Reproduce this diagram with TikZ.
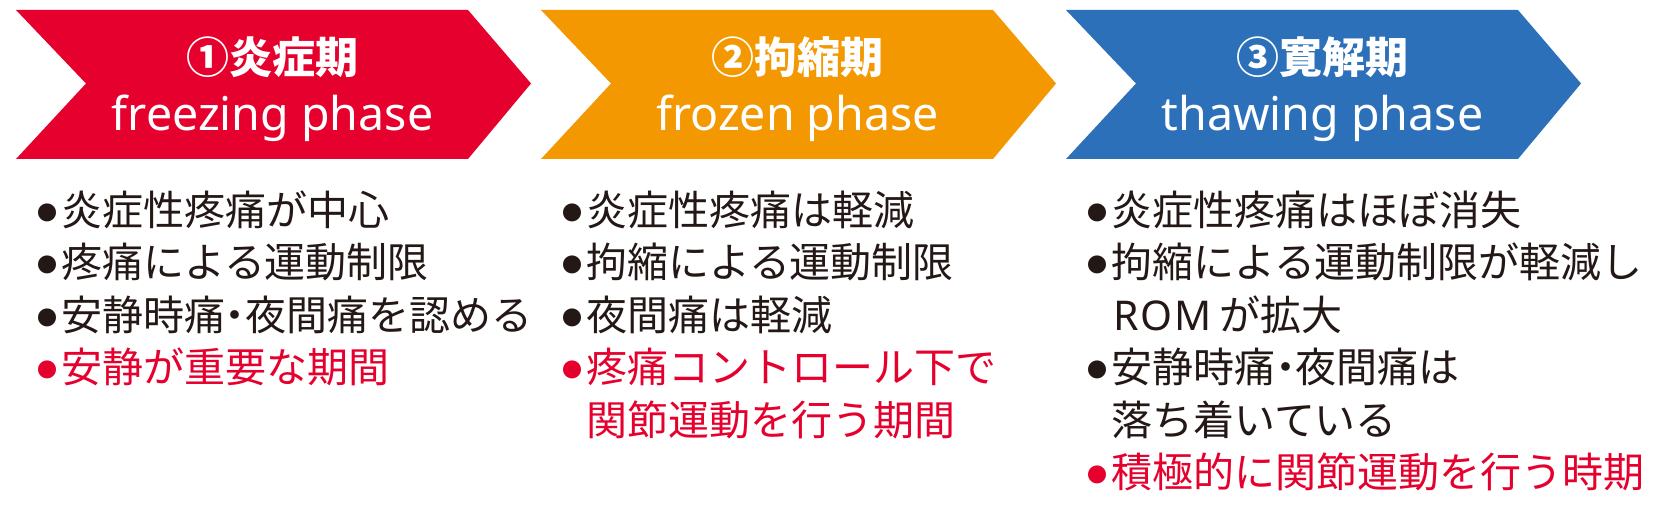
\documentclass[tikz,border=0pt]{standalone}
\usepackage{fontspec}
\setmainfont{Noto Sans}
\newfontfamily\jp{Noto Sans CJK JP}
\newfontfamily\jpp[RawFeature=+palt]{Noto Sans CJK JP}
\newfontfamily\lat{Noto Sans}
\definecolor{cred}{HTML}{E5002D}
\definecolor{corange}{HTML}{F39800}
\definecolor{cblue}{HTML}{2B70B8}
\definecolor{ink}{HTML}{231815}
\newcommand\nd{{\jpp ・}}
\begin{document}
\begin{tikzpicture}[x=1pt,y=-1pt,
  ttl/.style={text=white,font=\fontsize{43}{43}\selectfont\jp\bfseries,inner sep=0pt,anchor=base},
  sub/.style={text=white,font=\fontsize{46.5}{46.5}\selectfont,inner sep=0pt,anchor=base},
  itm/.style={text=ink,font=\fontsize{41}{41}\selectfont\jp,inner sep=0pt,anchor=base west},
  bul/.style={text=ink,font=\fontsize{20}{20}\selectfont\jp,inner sep=0pt,anchor=center},
  hot/.style={text=cred}]
\useasboundingbox (0,0) rectangle (1680,505);
% chevrons
\fill[cred] (16,10) -- (468,10) -- (531,83.5) -- (468,159) -- (16,159) -- (86,83.5) -- cycle;
\fill[corange] (541,10) -- (993,10) -- (1056,83.5) -- (993,159) -- (541,159) -- (611,83.5) -- cycle;
\fill[cblue] (1066,10) -- (1518,10) -- (1581,83.5) -- (1518,159) -- (1066,159) -- (1136,83.5) -- cycle;
% titles
\node[ttl] (t1) at (272.5,74) {①炎症期};
\node[sub] (s1) at (272.5,131) {freezing phase};
\node[ttl] (t2) at (797.5,74) {②拘縮期};
\node[sub] (s2) at (797.5,131) {frozen phase};
\node[ttl] (t3) at (1322.5,74) {③寛解期};
\node[sub] (s3) at (1322.5,131) {thawing phase};
% list 1
\node[bul] (b11) at (47,212.5) {●};
\node[itm] (r11) at (61,225) {炎症性疼痛が中心};
\node[bul] (b12) at (47,265) {●};
\node[itm] (r12) at (61,277.5) {疼痛による運動制限};
\node[bul] (b13) at (47,317.5) {●};
\node[itm] (r13) at (61,330) {安静時痛\nd 夜間痛を認める};
\node[bul,hot] (b14) at (47,370) {●};
\node[itm,hot] (r14) at (61,382.5) {安静が重要な期間};
% list 2
\node[bul] (b21) at (572,212.5) {●};
\node[itm] (r21) at (586,225) {炎症性疼痛は軽減};
\node[bul] (b22) at (572,265) {●};
\node[itm] (r22) at (586,277.5) {拘縮による運動制限};
\node[bul] (b23) at (572,317.5) {●};
\node[itm] (r23) at (586,330) {夜間痛は軽減};
\node[bul,hot] (b24) at (572,370) {●};
\node[itm,hot] (r24) at (586,382.5) {疼痛コントロール下で};
\node[itm,hot] (r25) at (586,435) {関節運動を行う期間};
% list 3
\node[bul] (b31) at (1097,212.5) {●};
\node[itm] (r31) at (1111,225) {炎症性疼痛はほぼ消失};
\node[bul] (b32) at (1097,265) {●};
\node[itm] (r32) at (1111,277.5) {拘縮による運動制限が軽減し};
\node[itm] (r33) at (1113,330) {{\lat R\kern2pt O\kern2pt M}\kern8pt が拡大};
\node[bul] (b34) at (1097,370) {●};
\node[itm] (r34) at (1111,382.5) {安静時痛\nd 夜間痛は};
\node[itm] (r35) at (1111,435) {落ち着いている};
\node[bul,hot] (b36) at (1097,475) {●};
\node[itm,hot] (r36) at (1111,487.5) {積極的に関節運動を行う時期};
\end{tikzpicture}
\end{document}
